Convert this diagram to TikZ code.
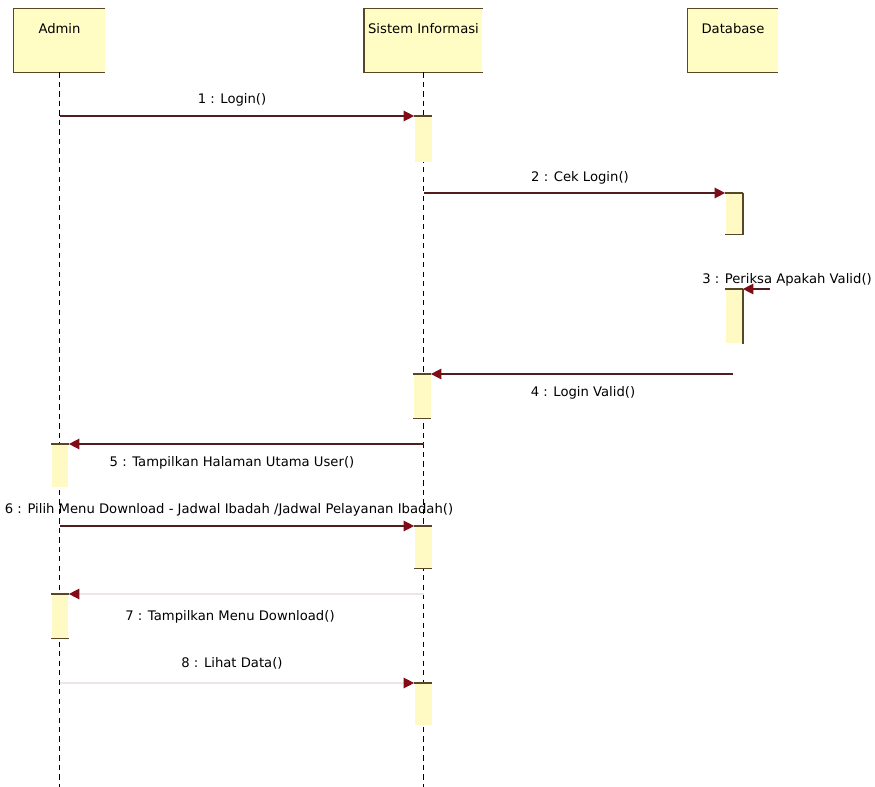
\documentclass[tikz,border=0pt]{standalone}
\usepackage{fontspec}
\setmainfont{DejaVu Sans}
\usepackage{xcolor}
\usepackage{tikz}
\usetikzlibrary{arrows.meta}
\definecolor{headFill}{RGB}{255,252,196}
\definecolor{headLine}{RGB}{88,70,38}
\definecolor{barFill}{RGB}{255,249,196}
\definecolor{msgLine}{RGB}{80,30,30}
\definecolor{msgFaint}{RGB}{238,230,230}
\definecolor{msgTip}{RGB}{128,12,24}

\begin{document}
\begin{tikzpicture}[x=0.02cm, y=-0.02cm, font=\fontsize{7.5}{9}\selectfont,
    head/.style={rectangle, fill=headFill, inner sep=0pt, minimum height=1.26cm},
    actbar/.style={rectangle, fill=barFill, inner sep=0pt, minimum width=0.34cm, anchor=north},
    life/.style={black, line width=0.6pt, dash pattern=on 3pt off 2.4pt},
    msg/.style={msgLine, line width=0.8pt, -{Triangle[length=6pt, width=6pt, color=msgTip]}},
    barEdge/.style={headLine, line width=0.9pt},
    lbl/.style={inner sep=1pt}]
    \useasboundingbox (0,0) rectangle (875,787);
    \node[head, minimum width=1.82cm] (admin) at (59.5,40.5) {};
    \node[head, minimum width=2.36cm] (sistem) at (423.5,40.5) {};
    \node[head, minimum width=1.8cm] (db) at (733,40.5) {};
    \foreach \h/\txt in {admin/Admin, sistem/Sistem Informasi, db/Database} {
        \draw[barEdge] (\h.north east) -- (\h.north west) -- (\h.south west) -- (\h.south east);
        \node[lbl] (\h-name) at ([yshift=-0.4cm]\h.north) {\txt};
    }
    \draw[life] (admin.south) -- (admin.south |- 0,787);
    \draw[life] (sistem.south) -- (sistem.south |- 0,787);
    \foreach \b/\x/\y/\h in {b1/423/116/46, b2/734/193/41, b3/734/289/54, b4/422/374/44,
        b5/60/444/43, b6/423/526/42, b7/60/594/44, b8/423/683/42} {
        \node[actbar, minimum height=\h*0.02cm] (\b) at (\x,\y) {};
    }
    \foreach \i in {1,...,8}
        \draw[barEdge] (b\i.north west) -- (b\i.north east);
    \draw[barEdge] (b2.north east) -- (b2.south east) -- (b2.south west);
    \draw[barEdge] (b3.north east) -- (b3.south east);
    \foreach \i in {4,6,7}
        \draw[barEdge] (b\i.south west) -- (b\i.south east);
    \coordinate (selfIn) at (770,289);
    \draw[msg] (admin |- b1.north) -- (b1.north west);
    \draw[msg] (sistem |- b2.north) -- (b2.north west);
    \draw[msg] (selfIn) -- (b3.north east);
    \draw[msg] (db |- b4.north) -- (b4.north east);
    \draw[msg] (sistem |- b5.north) -- (b5.north east);
    \draw[msg] (admin |- b6.north) -- (b6.north west);
    \draw[msg, msgFaint] (sistem |- b7.north) -- (b7.north east);
    \draw[msg, msgFaint] (admin |- b8.north) -- (b8.north west);
    \node[lbl] (m1) at (232,100) {1 : Login()};
    \node[lbl] (m2) at (580,178) {2 : Cek Login()};
    \node[lbl] (m3) at (787,280) {3 : Periksa Apakah Valid()};
    \node[lbl] (m4) at (583,393) {4 : Login Valid()};
    \node[lbl] (m5) at (232,463) {5 : Tampilkan Halaman Utama User()};
    \node[lbl] (m6) at (229,510) {6 : Pilih Menu Download - Jadwal Ibadah /Jadwal Pelayanan Ibadah()};
    \node[lbl] (m7) at (230,617) {7 : Tampilkan Menu Download()};
    \node[lbl] (m8) at (232,663) {8 : Lihat Data()};
\end{tikzpicture}
\end{document}
